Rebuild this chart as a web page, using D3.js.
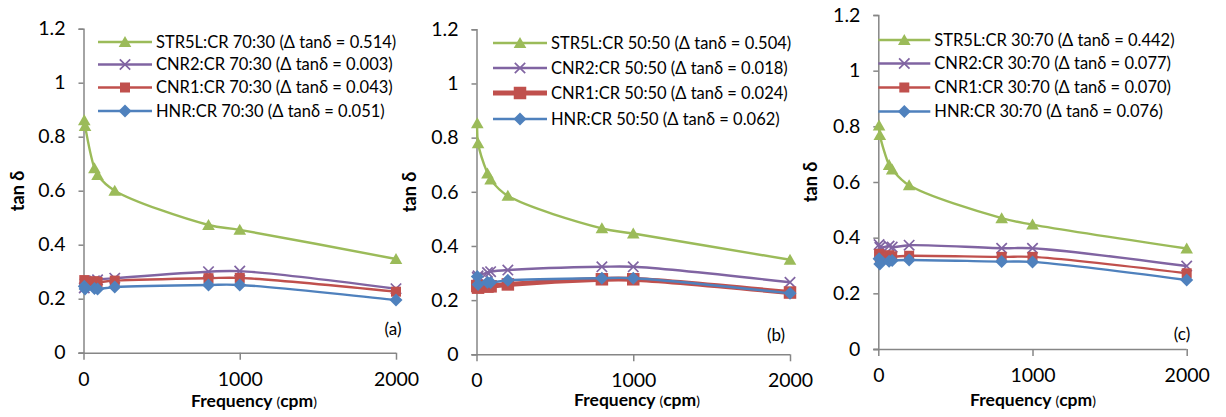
<!DOCTYPE html>
<html>
<head>
<meta charset="utf-8">
<script src="https://cdn.jsdelivr.net/npm/d3@7"></script>
<style>
  html, body { margin: 0; padding: 0; background: #ffffff; }
  svg { display: block; font-family: Lato, "Open Sans", "Noto Sans", sans-serif; }
</style>
</head>
<body>
<svg id="chart" width="1226" height="417"></svg>
<script>
// Frequency sweep (cpm) shared by every blend
const frequency = [5, 10, 70, 90, 200, 800, 1000, 2000];

// Tick values
const xTicks = [0, 1000, 2000];
const yTicks = [0, 0.2, 0.4, 0.6, 0.8, 1, 1.2];

// Blend labels
const rubbers = ["STR5L", "CNR2", "CNR1", "HNR"];
const ratios = ["70:30", "50:50", "30:70"];
const panelTags = ["(a)", "(b)", "(c)"];

// Δ tanδ quoted in the legends, per ratio, in rubber order
const delta7030 = ["0.514", "0.003", "0.043", "0.051"];
const delta5050 = ["0.504", "0.018", "0.024", "0.062"];
const delta3070 = ["0.442", "0.077", "0.070", "0.076"];

// tan δ values, ratio 70:30
const str5l7030 = [0.861, 0.840, 0.683, 0.658, 0.600, 0.473, 0.455, 0.347];
const cnr27030  = [0.240, 0.255, 0.266, 0.270, 0.276, 0.300, 0.302, 0.237];
const cnr17030  = [0.269, 0.262, 0.265, 0.262, 0.267, 0.276, 0.277, 0.226];
const hnr7030   = [0.246, 0.236, 0.238, 0.236, 0.243, 0.251, 0.251, 0.195];

// tan δ values, ratio 50:50
const str5l5050 = [0.853, 0.779, 0.668, 0.645, 0.585, 0.465, 0.446, 0.349];
const cnr25050  = [0.284, 0.290, 0.302, 0.305, 0.311, 0.323, 0.323, 0.266];
const cnr15050  = [0.252, 0.246, 0.250, 0.251, 0.258, 0.277, 0.277, 0.228];
const hnr5050   = [0.287, 0.258, 0.266, 0.265, 0.273, 0.281, 0.281, 0.225];

// tan δ values, ratio 30:70
const str5l3070 = [0.803, 0.769, 0.661, 0.645, 0.588, 0.470, 0.447, 0.361];
const cnr23070  = [0.375, 0.365, 0.370, 0.366, 0.373, 0.362, 0.362, 0.298];
const cnr13070  = [0.342, 0.330, 0.337, 0.333, 0.335, 0.331, 0.331, 0.272];
const hnr3070   = [0.324, 0.305, 0.315, 0.318, 0.320, 0.314, 0.313, 0.248];

const panelData = [
  { deltas: delta7030, values: [str5l7030, cnr27030, cnr17030, hnr7030] },
  { deltas: delta5050, values: [str5l5050, cnr25050, cnr15050, hnr5050] },
  { deltas: delta3070, values: [str5l3070, cnr23070, cnr13070, hnr3070] }
];

// Series styling, in rubber order
const colors = ["#9BBB59", "#8064A2", "#C0504D", "#4F81BD"];
const markers = ["triangle", "cross", "square", "diamond"];

// Panel geometry
const layout = [
  { x0: 83.5, x1: 396, y0: 352.7, y1: 28.7,
    legX: 98, legW: 54, legRows: [42, 64.5, 87.5, 111],
    yTitle: [18, 191], xTitle: [254, 402], tag: [393, 329], thick: -1 },
  { x0: 476.5, x1: 790, y0: 354.3, y1: 29.3,
    legX: 493, legW: 54, legRows: [43, 68, 93, 119],
    yTitle: [410, 192], xTitle: [637, 401], tag: [776, 335], thick: 2 },
  { x0: 878.3, x1: 1186.7, y0: 349, y1: 15,
    legX: 878.3, legW: 52, legRows: [40, 63.5, 87.5, 111.5],
    yTitle: [811, 182], xTitle: [1033, 401], tag: [1182, 334], thick: -1 }
];

const svg = d3.select("#chart");
const axisColor = "#868686";

function drawMarker(g, type, color, big) {
  const k = big ? 1.25 : 1;
  if (type === "triangle") {
    g.append("path").attr("d", `M0,${-6 * k}L${6.3 * k},${5 * k}L${-6.3 * k},${5 * k}Z`)
      .attr("fill", color);
  } else if (type === "square") {
    const s = 5 * k;
    g.append("rect").attr("x", -s).attr("y", -s).attr("width", 2 * s).attr("height", 2 * s)
      .attr("fill", color);
  } else if (type === "diamond") {
    const s = 6.5 * k;
    g.append("path").attr("d", `M0,${-s}L${s},0L0,${s}L${-s},0Z`).attr("fill", color);
  } else {
    const s = 5.2 * k;
    g.append("path").attr("d", `M${-s},${-s}L${s},${s}M${-s},${s}L${s},${-s}`)
      .attr("stroke", color).attr("stroke-width", 1.7).attr("fill", "none");
  }
}

layout.forEach((L, p) => {
  const x = d3.scaleLinear().domain([0, 2000]).range([L.x0, L.x1]);
  const y = d3.scaleLinear().domain([0, 1.2]).range([L.y0, L.y1]);
  const g = svg.append("g");

  // y axis
  const yAxis = g.append("g").attr("transform", `translate(${L.x0},0)`)
    .call(d3.axisLeft(y).tickValues(yTicks).tickSize(5).tickPadding(13)
      .tickFormat(d => d3.format("")(d)));
  // x axis
  const xAxis = g.append("g").attr("transform", `translate(0,${L.y0})`)
    .call(d3.axisBottom(x).tickValues(xTicks).tickSize(7).tickPadding(12)
      .tickFormat(d3.format("d")));
  [yAxis, xAxis].forEach(a => {
    a.select(".domain").attr("stroke", axisColor).attr("stroke-width", 1.5);
    a.selectAll(".tick line").attr("stroke", axisColor).attr("stroke-width", 1.5);
    a.selectAll("text").attr("fill", "#000").attr("font-size", 19.5)
      .attr("font-family", "Lato, 'Open Sans', sans-serif");
  });
  xAxis.select(".domain").attr("d", `M${L.x0 - 5},0.5H${L.x1}`);

  // series
  const line = d3.line().x((d, i) => x(frequency[i])).y(d => y(d))
    .curve(d3.curveCatmullRom.alpha(0.5));
  const data = panelData[p];
  data.values.forEach((vals, s) => {
    const big = s === L.thick;
    g.append("path").datum(vals).attr("d", line)
      .attr("fill", "none").attr("stroke", colors[s])
      .attr("stroke-width", big ? 5 : 2.4).attr("stroke-linejoin", "round");
    vals.forEach((v, i) => {
      const m = g.append("g").attr("transform", `translate(${x(frequency[i])},${y(v)})`);
      drawMarker(m, markers[s], colors[s], big);
    });
  });

  // legend
  rubbers.forEach((r, s) => {
    const cy = L.legRows[s];
    const big = s === L.thick;
    g.append("line").attr("x1", L.legX).attr("x2", L.legX + L.legW)
      .attr("y1", cy).attr("y2", cy).attr("stroke", colors[s])
      .attr("stroke-width", big ? 5 : 2.4);
    const m = g.append("g").attr("transform", `translate(${L.legX + L.legW / 2},${cy})`);
    drawMarker(m, markers[s], colors[s], big);
    g.append("text").attr("x", L.legX + L.legW + 4).attr("y", cy)
      .attr("dy", "0.35em").attr("font-size", 16.5).attr("fill", "#000")
      .text(`${r}:CR ${ratios[p]} (Δ tanδ = ${data.deltas[s]})`);
  });

  // axis titles
  g.append("text").attr("transform", `translate(${L.yTitle[0]},${L.yTitle[1]}) rotate(-90)`)
    .attr("text-anchor", "middle").attr("dy", "0.35em")
    .attr("font-weight", "bold").attr("font-size", 18).text("tan δ");
  const xt = g.append("text").attr("x", L.xTitle[0]).attr("y", L.xTitle[1])
    .attr("text-anchor", "middle").attr("dy", "0.3em").attr("font-size", 17.5);
  xt.append("tspan").attr("font-weight", "bold").text("Frequency ");
  xt.append("tspan").attr("font-size", 14).text("(");
  xt.append("tspan").attr("font-weight", "bold").text("cpm");
  xt.append("tspan").attr("font-size", 14).text(")");

  // panel tag
  g.append("text").attr("x", L.tag[0]).attr("y", L.tag[1]).attr("dy", "0.35em")
    .attr("text-anchor", "middle").attr("font-size", 17).text(panelTags[p]);
});
</script>
</body>
</html>
